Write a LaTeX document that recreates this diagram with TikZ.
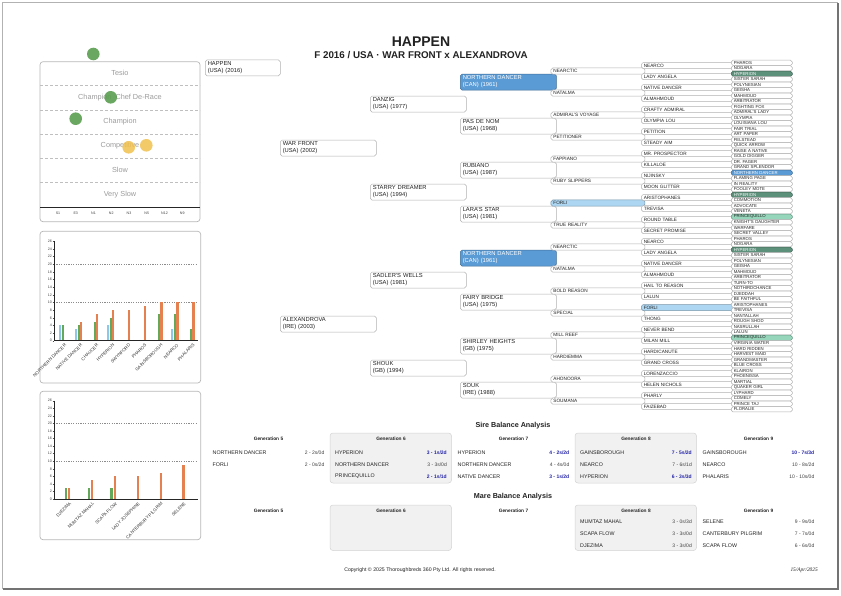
\documentclass[tikz,border=0pt]{standalone}
\usepackage{fontspec}
\setmainfont{Liberation Sans}
\newfontfamily\datefont{Liberation Serif}
\pgfdeclarelayer{bg}
\pgfsetlayers{bg,main}
\definecolor{w}{HTML}{FFFFFF}
\definecolor{k}{HTML}{222222}
\definecolor{wt}{HTML}{FFFFFF}
\definecolor{nd}{HTML}{5B9BD5}
\definecolor{fl}{HTML}{ADD6F2}
\definecolor{hy}{HTML}{5E917C}
\definecolor{pq}{HTML}{96D7BC}
\definecolor{conn}{HTML}{9A9A9A}
\definecolor{lab}{HTML}{9C9C9C}
\definecolor{barb}{HTML}{8CC8E8}
\definecolor{barg}{HTML}{64A85A}
\definecolor{baro}{HTML}{E5804F}
\definecolor{navy}{HTML}{2424A8}
\definecolor{boxf}{HTML}{F1F1F1}
\definecolor{boxd}{HTML}{D4D4D4}
\definecolor{grn}{HTML}{5A9E4F}
\definecolor{yel}{HTML}{F2C14E}
\tikzset{
  pbase/.style={anchor=west, rounded corners=1.8pt, line width=0.5pt, inner xsep=2.5pt, inner ysep=0pt, align=left},
  pbig/.style={pbase, text width=91pt, minimum height=16pt, font=\fontsize{5.8}{7}\selectfont},
  pfive/.style={pbase, text width=89pt, minimum height=6.2pt, font=\fontsize{4.7}{5}\selectfont},
  psix/.style={pbase, text width=89pt, minimum height=6pt, font=\fontsize{4.7}{5}\selectfont},
  pseven/.style={pbase, text width=56pt, minimum height=5.3pt, font=\fontsize{4.3}{4.5}\selectfont},
  cn/.style={draw=conn, line width=1.1pt},
  dsh/.style={draw=black!35, line width=0.6pt, dash pattern=on 4pt off 3pt},
  panel/.style={draw=black!28, line width=0.7pt, rounded corners=3pt},
  catlab/.style={font=\fontsize{7.3}{8}\selectfont, text=lab, inner sep=0},
  tick/.style={font=\fontsize{3.6}{4}\selectfont, text=black!75, inner sep=0},
  ytk/.style={font=\fontsize{3.6}{4}\selectfont, text=black!75, inner sep=0, anchor=east},
  xlab/.style={rotate=45, anchor=east, inner sep=0, font=\fontsize{4.4}{5}\selectfont, text=black!80},
  dotl/.style={draw=black!45, line width=0.5pt, dash pattern=on 1.2pt off 1.2pt},
  axisl/.style={draw=black!85, line width=0.6pt},
  bname/.style={anchor=west, inner sep=0, font=\fontsize{5.3}{6}\selectfont, text=k},
  bnum/.style={anchor=east, inner sep=0, font=\fontsize{5}{6}\selectfont, text=black!75},
  bhi/.style={anchor=east, inner sep=0, font=\bfseries\fontsize{5}{6}\selectfont, text=navy},
  bhead/.style={inner sep=0, font=\bfseries\fontsize{4.8}{6}\selectfont, text=k},
  btitle/.style={inner sep=0, font=\bfseries\fontsize{7.2}{8}\selectfont, text=k},
  gbox/.style={fill=boxf, draw=boxd, line width=0.5pt, rounded corners=3pt}
}
\newcommand{\brow}[6]{\node[bname] (#1) at (#2+5,#3) {#4}; \node[#6] (#1v) at (#2+117,#3) {#5};}
\begin{document}
\begin{tikzpicture}[x=1pt,y=-1pt]
\useasboundingbox (0,0) rectangle (841,595);
\fill[white] (0,0) rectangle (841,595);
% page frame
\draw[black!30, line width=0.6pt] (2,2) rectangle (837,588);
\draw[black!55, line width=1.6pt] (3,589) -- (838,589) -- (838,3);

% ---------- scatter panel ----------
\draw[panel] (40,61.7) rectangle (200,221.7);
\foreach \yy in {85,110,134.3,158.3,182.7} \draw[draw=black!25, line width=0.5pt, dash pattern=on 3pt off 2pt] (40,\yy) -- (200,\yy);
\draw[axisl] (40,207.3) -- (200,207.3);
\node[catlab] (c1) at (120,72.7) {Tesio};
\node[catlab] (c2) at (120,97.3) {Champion\hspace{2pt} Chef De-Race};
\node[catlab] (c3) at (120,121.3) {Champion};
\node[catlab] (c4) at (120,146) {Competitive};
\node[catlab] (c5) at (120,170) {Slow};
\node[catlab] (c6) at (120,194.3) {Very Slow};
\foreach \tt [count=\kk from 0] in {S1,E3,N1,N2,N3,N5,N12,N9} \node[tick] (tk\kk) at (58+17.75*\kk,213.3) {\tt};
\fill[grn, opacity=0.9] (93.3,54) circle (6.3);
\fill[grn, opacity=0.9] (110.7,97.3) circle (6.3);
\fill[grn, opacity=0.9] (75.7,118.7) circle (6.3);
\fill[yel, opacity=0.85] (128.7,147.3) circle (6.3);
\fill[yel, opacity=0.85] (146.3,145.3) circle (6.3);

% ---------- bar chart 1 ----------
\draw[panel] (40,231.3) rectangle (200.7,383);
\foreach \v in {0,2,...,26} {
  \node[ytk] (ya\v) at (52,{340.7-3.823*\v}) {\v};
  \draw[black!70, line width=0.3pt] (52.6,{340.7-3.823*\v}) -- (54,{340.7-3.823*\v});
}
\draw[dotl] (54,264.2) -- (197.7,264.2);
\draw[dotl] (54,302.5) -- (197.7,302.5);
\foreach \x/\v/\c in {60.0/4/barb, 62.6/4/barg, 76.05/3/barb, 78.65/4/barg, 81.15/5/baro, 94.7/5/barg, 97.2/7/baro, 108.15/4/barb, 110.75/6/barg, 113.25/8/baro, 129.3/8/baro, 145.35/9/baro, 158.9/7/barg, 161.4/10/baro, 172.35/3/barb, 174.95/7/barg, 177.45/10/baro, 191.0/3/barg, 193.5/10/baro}
  \fill[\c] (\x-1.1,340.7) rectangle (\x+1.1,{340.7-3.823*\v});
\draw[axisl] (54,241.3) -- (54,340.7) -- (197.7,340.7);
\foreach \nm [count=\i from 0] in {NORTHERN DANCER, NATIVE DANCER, CHAUCER, HYPERION, SWYNFORD, PHAROS, GAINSBOROUGH, NEARCO, PHALARIS}
  \node[xlab] (xa\i) at ({62.6+16.05*\i+3},344.5) {\nm};

% ---------- bar chart 2 ----------
\draw[panel] (40,391.3) rectangle (200.7,539.7);
\foreach \v in {0,2,...,26} {
  \node[ytk] (yb\v) at (52,{499-3.78*\v}) {\v};
  \draw[black!70, line width=0.3pt] (52.6,{499-3.78*\v}) -- (54,{499-3.78*\v});
}
\draw[dotl] (54,423.4) -- (197.7,423.4);
\draw[dotl] (54,461.2) -- (197.7,461.2);
\foreach \x/\v/\c in {65.7/3/barg, 69.0/3/baro, 88.6/3/barg, 91.9/5/baro, 111.5/3/barg, 114.8/6/baro, 137.7/6/baro, 160.6/7/baro, 183.5/9/baro}
  \fill[\c] (\x-1.1,499) rectangle (\x+1.1,{499-3.78*\v});
\draw[axisl] (54,400.7) -- (54,499) -- (197.7,499);
\foreach \nm [count=\i from 0] in {DJEZIMA, MUMTAZ MAHAL, SCAPA FLOW, LADY JOSEPHINE, CANTERBURY PILGRIM, SELENE}
  \node[xlab] (xb\i) at ({69+22.9*\i+1.5},503) {\nm};

% ---------- titles ----------
\node[inner sep=0, font=\bfseries\fontsize{14}{16}\selectfont, text=k] (title) at (421,41.5) {HAPPEN};
\node[inner sep=0, font=\bfseries\fontsize{9.8}{11}\selectfont, text=k] (subtitle) at (421,55.2) {F 2016 / USA · WAR FRONT x ALEXANDROVA};

% ---------- pedigree ----------
\node[pbig, text width=70pt, fill=w, draw=w!70!black, text=k] (happen) at (205,67.85) {HAPPEN\\(USA) (2016)};
\foreach \nm/\fc/\tc [count=\i from 0] in {WAR FRONT\\(USA) (2002)/w/k, ALEXANDROVA\\(IRE) (2003)/w/k}
  \node[pbig, fill=\fc, draw=\fc!70!black, text=\tc] (g2n\i) at (280,148.05+176*\i) {\nm};
\foreach \nm/\fc/\tc [count=\i from 0] in {DANZIG\\(USA) (1977)/w/k, STARRY DREAMER\\(USA) (1994)/w/k, SADLER'S WELLS\\(USA) (1981)/w/k, SHOUK\\(GB) (1994)/w/k}
  \node[pbig, fill=\fc, draw=\fc!70!black, text=\tc] (g3n\i) at (370,104.05+88*\i) {\nm};
\foreach \nm/\fc/\tc [count=\i from 0] in {NORTHERN DANCER\\(CAN) (1961)/nd/wt, PAS DE NOM\\(USA) (1968)/w/k, RUBIANO\\(USA) (1987)/w/k, LARA'S STAR\\(USA) (1981)/w/k, NORTHERN DANCER\\(CAN) (1961)/nd/wt, FAIRY BRIDGE\\(USA) (1975)/w/k, SHIRLEY HEIGHTS\\(GB) (1975)/w/k, SOUK\\(IRE) (1988)/w/k}
  \node[pbig, fill=\fc, draw=\fc!70!black, text=\tc] (g4n\i) at (460,82.05+44*\i) {\nm};
\foreach \nm/\fc/\tc [count=\i from 0] in {NEARCTIC/w/k, NATALMA/w/k, ADMIRAL'S VOYAGE/w/k, PETITIONER/w/k, FAPPIANO/w/k, RUBY SLIPPERS/w/k, FORLI/fl/k, TRUE REALITY/w/k, NEARCTIC/w/k, NATALMA/w/k, BOLD REASON/w/k, SPECIAL/w/k, MILL REEF/w/k, HARDIEMMA/w/k, AHONOORA/w/k, SOUMANA/w/k}
  \node[pfive, fill=\fc, draw=\fc!70!black, text=\tc] (g5n\i) at (550.7,71.05+22*\i) {\nm};
\foreach \nm/\fc/\tc [count=\i from 0] in {NEARCO/w/k, LADY ANGELA/w/k, NATIVE DANCER/w/k, ALMAHMOUD/w/k, CRAFTY ADMIRAL/w/k, OLYMPIA LOU/w/k, PETITION/w/k, STEADY AIM/w/k, MR. PROSPECTOR/w/k, KILLALOE/w/k, NIJINSKY/w/k, MOON GLITTER/w/k, ARISTOPHANES/w/k, TREVISA/w/k, ROUND TABLE/w/k, SECRET PROMISE/w/k, NEARCO/w/k, LADY ANGELA/w/k, NATIVE DANCER/w/k, ALMAHMOUD/w/k, HAIL TO REASON/w/k, LALUN/w/k, FORLI/fl/k, THONG/w/k, NEVER BEND/w/k, MILAN MILL/w/k, HARDICANUTE/w/k, GRAND CROSS/w/k, LORENZACCIO/w/k, HELEN NICHOLS/w/k, PHARLY/w/k, FAIZEBAD/w/k}
  \node[psix, fill=\fc, draw=\fc!70!black, text=\tc] (g6n\i) at (641,65.55+11*\i) {\nm};
\foreach \nm/\fc/\tc [count=\i from 0] in {PHAROS/w/k, NOGARA/w/k, HYPERION/hy/wt, SISTER SARAH/w/k, POLYNESIAN/w/k, GEISHA/w/k, MAHMOUD/w/k, ARBITRATOR/w/k, FIGHTING FOX/w/k, ADMIRAL'S LADY/w/k, OLYMPIA/w/k, LOUISIANA LOU/w/k, FAIR TRIAL/w/k, ART PAPER/w/k, FELSTEAD/w/k, QUICK ARROW/w/k, RAISE A NATIVE/w/k, GOLD DIGGER/w/k, DR. FAGER/w/k, GRAND SPLENDOR/w/k, NORTHERN DANCER/nd/wt, FLAMING PAGE/w/k, IN REALITY/w/k, FOOLEY MOTE/w/k, HYPERION/hy/wt, COMMOTION/w/k, ADVOCATE/w/k, VENETA/w/k, PRINCEQUILLO/pq/k, KNIGHT'S DAUGHTER/w/k, WARFARE/w/k, SECRET VALLEY/w/k, PHAROS/w/k, NOGARA/w/k, HYPERION/hy/wt, SISTER SARAH/w/k, POLYNESIAN/w/k, GEISHA/w/k, MAHMOUD/w/k, ARBITRATOR/w/k, TURN-TO/w/k, NOTHIRDCHANCE/w/k, DJEDDAH/w/k, BE FAITHFUL/w/k, ARISTOPHANES/w/k, TREVISA/w/k, NANTALLAH/w/k, ROUGH SHOD/w/k, NASRULLAH/w/k, LALUN/w/k, PRINCEQUILLO/pq/k, VIRGINIA WATER/w/k, HARD RIDDEN/w/k, HARVEST MAID/w/k, GRANDMASTER/w/k, BLUE CROSS/w/k, KLAIRON/w/k, PHOENISSA/w/k, MARTIAL/w/k, QUAKER GIRL/w/k, LYPHARD/w/k, COMELY/w/k, PRINCE TAJ/w/k, FLORALIE/w/k}
  \node[pseven, fill=\fc, draw=\fc!70!black, text=\tc] (g7n\i) at (731,62.8+5.5*\i) {\nm};

\begin{pgfonlayer}{bg}
  \draw[black, line width=0.7pt] (happen.south) |- (g2n1.west);
  \draw[black, line width=0.7pt] (happen.south |- g2n0.west) -- (g2n0.west);
  \foreach \kk/\mm in {3/1,4/3,5/7,6/15,7/31} {
    \foreach \j in {0,...,\mm} {
      \pgfmathtruncatemacro\aa{2*\j}
      \pgfmathtruncatemacro\bb{2*\j+1}
      \draw[cn] ([xshift=2pt]g\kk n\aa.west) -- ([xshift=2pt]g\kk n\bb.west);
    }
  }
  \draw[dsh] (g2n0.east) -- (g2n0.east -| g7n0.west);
  \draw[dsh] (g2n1.east) -- (g2n1.east -| g7n0.west);
  \coordinate (half) at (242.5,236.05);
  \draw[dsh] (half) -- (half -| g7n0.west);
\end{pgfonlayer}

% ---------- Sire balance ----------
\node[btitle] (sbt) at (513,425.5) {Sire Balance Analysis};
\draw[gbox] (330,433) rectangle (451.5,483);
\draw[gbox] (575,433) rectangle (696.5,483);
\node[bhead] (sh5) at (268.5,439) {Generation 5};
\node[bhead] (sh6) at (391,439) {Generation 6};
\node[bhead] (sh7) at (513.5,439) {Generation 7};
\node[bhead] (sh8) at (636,439) {Generation 8};
\node[bhead] (sh9) at (758.5,439) {Generation 9};
\brow{s50}{207.5}{452.5}{NORTHERN DANCER}{2 - 2s/0d}{bnum}
\brow{s51}{207.5}{464.5}{FORLI}{2 - 0s/2d}{bnum}
\brow{s60}{330}{452.5}{HYPERION}{3 - 1s/2d}{bhi}
\brow{s61}{330}{464.5}{NORTHERN DANCER}{3 - 3s/0d}{bnum}
\brow{s62}{330}{476.5}{PRINCEQUILLO}{2 - 1s/1d}{bhi}
\brow{s70}{452.5}{452.5}{HYPERION}{4 - 2s/2d}{bhi}
\brow{s71}{452.5}{464.5}{NORTHERN DANCER}{4 - 4s/0d}{bnum}
\brow{s72}{452.5}{476.5}{NATIVE DANCER}{3 - 1s/2d}{bhi}
\brow{s80}{575}{452.5}{GAINSBOROUGH}{7 - 5s/2d}{bhi}
\brow{s81}{575}{464.5}{NEARCO}{7 - 6s/1d}{bnum}
\brow{s82}{575}{476.5}{HYPERION}{6 - 3s/3d}{bhi}
\brow{s90}{697.5}{452.5}{GAINSBOROUGH}{10 - 7s/3d}{bhi}
\brow{s91}{697.5}{464.5}{NEARCO}{10 - 8s/2d}{bnum}
\brow{s92}{697.5}{476.5}{PHALARIS}{10 - 10s/0d}{bnum}

% ---------- Mare balance ----------
\node[btitle] (mbt) at (513,496.5) {Mare Balance Analysis};
\draw[gbox] (330,505) rectangle (451.5,550.5);
\draw[gbox] (575,505) rectangle (696.5,550.5);
\node[bhead] (mh5) at (268.5,510.5) {Generation 5};
\node[bhead] (mh6) at (391,510.5) {Generation 6};
\node[bhead] (mh7) at (513.5,510.5) {Generation 7};
\node[bhead] (mh8) at (636,510.5) {Generation 8};
\node[bhead] (mh9) at (758.5,510.5) {Generation 9};
\brow{m80}{575}{522}{MUMTAZ MAHAL}{3 - 0s/3d}{bnum}
\brow{m81}{575}{534}{SCAPA FLOW}{3 - 3s/0d}{bnum}
\brow{m82}{575}{546}{DJEZIMA}{3 - 3s/0d}{bnum}
\brow{m90}{697.5}{522}{SELENE}{9 - 9s/0d}{bnum}
\brow{m91}{697.5}{534}{CANTERBURY PILGRIM}{7 - 7s/0d}{bnum}
\brow{m92}{697.5}{546}{SCAPA FLOW}{6 - 6s/0d}{bnum}

% ---------- footer ----------
\node[inner sep=0, font=\fontsize{5.2}{6}\selectfont, text=k] (copy) at (420,570.5) {Copyright © 2025 Thoroughbreds 360 Pty Ltd. All rights reserved.};
\node[inner sep=0, anchor=east, font=\datefont\itshape\fontsize{5.4}{6}\selectfont, text=k] (date) at (818,570.5) {15/Apr/2025};
\end{tikzpicture}
\end{document}
